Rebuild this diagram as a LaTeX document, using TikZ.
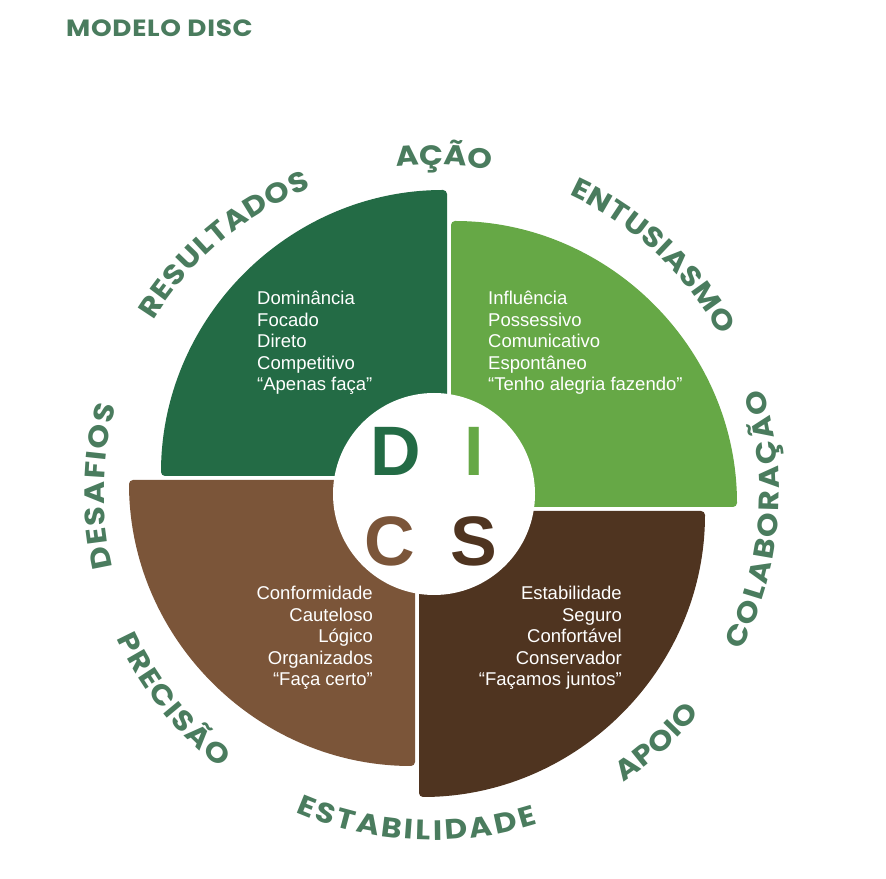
\documentclass[tikz,border=0pt]{standalone}
\usepackage{fontspec}
\setmainfont{Liberation Sans}
\newfontfamily\ringfont[FakeStretch=1.12]{Poppins}
\newcommand\ringsize{\fontsize{28}{30}\selectfont}
\usetikzlibrary{decorations.text}
\definecolor{dgreen}{HTML}{236B45}
\definecolor{igreen}{HTML}{66A846}
\definecolor{cbrown}{HTML}{7B5539}
\definecolor{sbrown}{HTML}{4F3420}
\definecolor{ringgreen}{HTML}{4A7C5E}
\begin{document}
\begin{tikzpicture}[x=1pt,y=1pt,
  quadrant/.style={rounded corners=4pt},
  traits/.style={text=white, inner sep=0pt, font=\fontsize{18.5}{21.5}\selectfont},
  letter/.style={inner sep=0pt, font=\fontsize{70}{70}\selectfont\bfseries},
  ringtext/.style 2 args={decorate, decoration={text along path, text align=center,
    text color=ringgreen, text={|\ringfont\bfseries\ringsize\kern#1pt|#2}}}]
  \useasboundingbox (0,0) rectangle (886,878);
  \fill[white] (0,0) rectangle (886,878);
  \coordinate (ring) at (432,385);
  % quadrants
  \fill[dgreen, quadrant] (447,402) -- (161,402) arc (180:90:286) -- cycle;
  \fill[igreen, quadrant] (451,371) -- (451,657) arc (90:0:286) -- cycle;
  \fill[cbrown, quadrant] (415,398) -- (129,398) arc (180:270:286) -- cycle;
  \fill[sbrown, quadrant] (419,367) -- (705,367) arc (0:-90:286) -- cycle;
  \fill[white] (434,384) circle (101);
  % letters
  \node[letter, text=dgreen] (dletter) at (396,427) {D};
  \node[letter, text=igreen] (iletter) at (474,427) {I};
  \node[letter, text=cbrown] (cletter) at (390,337) {C};
  \node[letter, text=sbrown] (sletter) at (474,337) {S};
  % traits
  \node[traits, anchor=west, align=left] (dtraits) at (257,535)
    {Dominância\\Focado\\Direto\\Competitivo\\“Apenas faça”};
  \node[traits, anchor=west, align=left] (itraits) at (488,535)
    {Influência\\Possessivo\\Comunicativo\\Espontâneo\\“Tenho alegria fazendo”};
  \node[traits, anchor=east, align=right] (ctraits) at (373,240)
    {Conformidade\\Cauteloso\\Lógico\\Organizados\\“Faça certo”};
  \node[traits, anchor=east, align=right] (straits) at (622,240)
    {Estabilidade\\Seguro\\Confortável\\Conservador\\“Façamos juntos”};
  % ring words
  \path[ringtext={0}{AÇÃO}] ([shift={(128:328)}]ring) arc (128:48:328);
  \path[ringtext={0.8}{RESULTADOS}] ([shift={(170:328)}]ring) arc (170:90:328);
  \path[ringtext={0.5}{ENTUSIASMO}] ([shift={(87:328)}]ring) arc (87:7:328);
  \path[ringtext={1.5}{DESAFIOS}] ([shift={(219:328)}]ring) arc (219:139:328);
  \path[ringtext={2.2}{COLABORAÇÃO}] ([shift={(-45:347)}]ring) arc (-45:35:347);
  \path[ringtext={0.5}{APOIO}] ([shift={(-88:347)}]ring) arc (-88:-8:347);
  \path[ringtext={2.7}{ESTABILIDADE}] ([shift={(227:347)}]ring) arc (227:307:347);
  \path[ringtext={1.6}{PRECISÃO}] ([shift={(178.5:347)}]ring) arc (178.5:258.5:347);
  % title
  \node[anchor=base west, inner sep=0pt, text=ringgreen,
    font=\ringfont\bfseries\fontsize{23.5}{24}\selectfont\addfontfeatures{LetterSpace=3}]
    (title) at (66,841) {MODELO DISC};
\end{tikzpicture}
\end{document}
